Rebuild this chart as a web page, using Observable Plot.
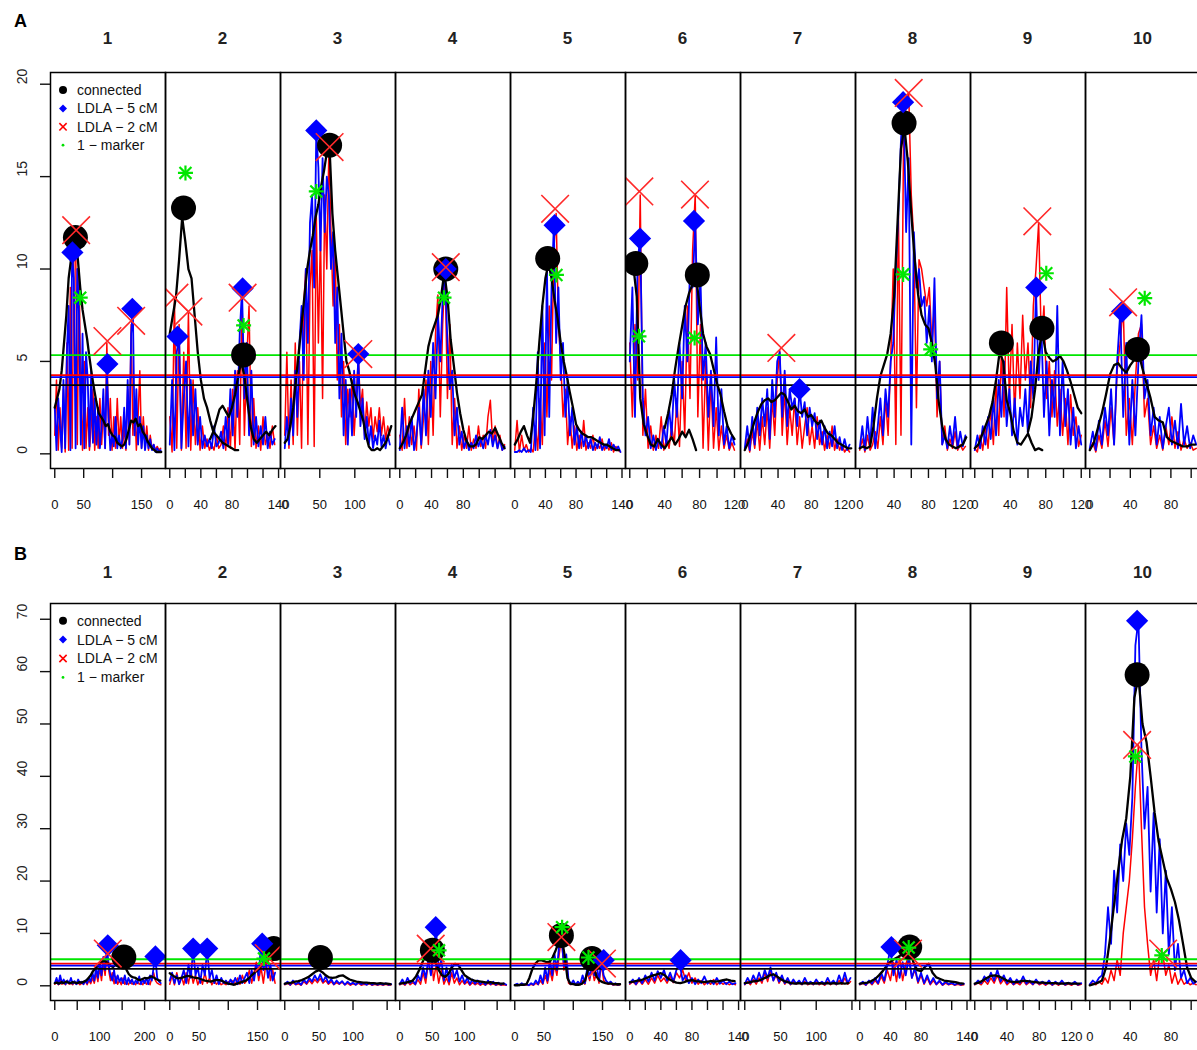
<!DOCTYPE html>
<html><head><meta charset="utf-8">
<script src="https://cdn.jsdelivr.net/npm/d3@7"></script>
<script src="https://cdn.jsdelivr.net/npm/@observablehq/plot@0.6"></script>
<style>
body{margin:0;background:#fff;overflow:hidden;font-family:"Liberation Sans",Arial,sans-serif}
#root{position:relative;width:1197px;height:1050px;overflow:hidden;background:#fff}
</style></head><body><div id="root"></div>
<script>
// ---------------- DATA ----------------
const chromosomes = ["1","2","3","4","5","6","7","8","9","10"];
const seriesNames = ["connected","LDLA \u2212 5 cM","LDLA \u2212 2 cM","1 \u2212 marker"];
// thresholds: 1-marker, LDLA 2 cM, LDLA 5 cM, connected
const thresholdColors = ["#00e600","#ff0000","#0000ff","#000000"];

// ---- Panel A ----
const lengthA = [184,137,152,134,139,122,128,124,120,105];
const ticksA = [[0,50,100,150],[0,20,40,60,80,100,120,140],[0,50,100,150],[0,20,40,60,80,100,120],[0,20,40,60,80,100,120,140],[0,20,40,60,80,100,120],[0,20,40,60,80,100,120],[0,20,40,60,80,100,120],[0,20,40,60,80,100,120],[0,20,40,60,80,100]];
const tickLabelsA = [[0,50,150],[0,40,80,140],[0,50,100],[0,40,80],[0,40,80,140],[0,40,80,120],[0,40,80,120],[0,40,80,120],[0,40,80,120],[0,40,80]];
const yTicksA = [0,5,10,15,20];
const yMaxA = 19.84;
const thresholdsA = [5.34,4.26,4.15,3.72];

// each chromosome: list of segments [start cM, step cM, values]
const blackA = [
 [[0,4,[2.5,3.0,3.5,4.5,6.0,7.5,9.5,10.5,11.2,11.5,10.5,9.0,7.8,7.0,6.2,5.2,4.3,3.5,2.8,2.2,2.0,1.8,1.5,1.6,1.2,1.0,0.9,0.6,0.5,0.4,0.5,0.8,1.3,1.8,1.7,1.9,1.5,1.6,1.2,1.0,0.7,0.5,0.3,0.2,0.1,0.1,0.1]]],
 [[0,4,[6.5,7.5,8.5,10.5,12.8,11.5,10.0,9.5,7.5,5.5,4.0,3.0,2.5,1.8,1.2,1.0,0.8,0.6,0.5,0.4,0.3,0.2,0.2]],
  [52,4,[0.8,1.2,1.8,2.4,2.6,2.3,2.0,2.5,3.2,4.2,5.0,4.2,2.8,1.5,0.8,0.6,0.8,1.0,1.2,1.0,1.3,1.5]]],
 [[0,4,[0.6,0.8,1.5,2.5,4.0,5.5,7.0,8.5,10.0,11.0,11.8,12.8,13.5,14.5,15.3,16.3,16.5,13.0,11.0,9.5,8.0,6.5,5.0,4.5,3.8,3.2,2.8,2.3,1.8,1.0,0.4,0.2,0.2,0.3,0.2,0.4,0.6,1.0,1.5]]],
 [[0,4,[0.3,0.6,1.0,1.6,2.0,2.4,2.8,3.2,4.5,5.8,6.5,7.0,7.5,8.5,9.8,8.5,6.2,4.8,3.3,2.2,1.3,0.7,0.4,0.4,0.5,0.9,0.8,1.0,1.2,1.1,1.4,1.0,0.6,0.3]]],
 [[0,4,[0.5,0.8,1.2,1.5,1.0,0.6,2.0,3.8,6.0,8.0,9.5,10.3,9.5,8.3,7.3,6.0,5.0,4.2,3.3,2.5,1.6,1.3,1.1,1.0,0.9,0.9,0.8,0.7,0.6,0.5,0.5,0.4,0.3,0.2,0.2]]],
 [[0,4,[9.8,10.2,8.5,3.0,1.6,1.0,0.5,0.4,0.8,0.5,0.3,0.6,0.9,0.5,0.8,1.2,0.9,1.3,0.8,0.2]],
  [40,4,[1.4,2.2,3.2,4.6,5.8,6.9,8.0,8.7,9.2,9.6,8.0,6.5,5.8,5.4,4.6,3.8,3.2,2.3,1.5,1.1,0.8]]],
 [[0,4,[0.2,0.6,1.2,1.8,2.3,2.7,2.9,3.0,2.8,2.9,3.1,3.3,3.2,2.8,2.4,2.6,2.3,2.2,2.4,2.0,2.1,1.8,1.6,1.8,1.4,1.1,1.0,0.8,0.6,0.5,0.4,0.3,0.3]]],
 [[0,4,[0.3,0.4,0.3,0.4,1.5,3.0,4.2,4.8,5.4,6.5,8.5,12.5,16.5,17.7,15.8,13.0,10.5,8.6,7.5,7.0,6.8,6.0,4.8,2.8,1.5,0.8,0.5,0.4,0.3,0.4,0.5,0.9]]],
 [[0,4,[0.3,0.5,1.0,1.5,2.0,2.8,4.0,5.5,5.0,2.9,2.2,1.2,0.6,0.5,0.8,1.1,0.6,0.2,0.3,0.2]],
  [60,4,[1.2,2.0,3.5,5.5,6.6,5.5,5.2,5.0,5.1,5.3,5.0,4.5,3.9,3.2,2.5,2.2]]],
 [[0,4,[0.2,0.6,1.4,2.2,3.2,4.3,4.8,4.9,4.6,4.4,4.8,5.1,5.5,4.6,3.8,3.0,2.0,1.8,1.7,0.9,0.7,0.6,0.5,0.4,0.4,0.5,0.5]]]
];
const blueA = [
 [[0,3,[2.5,0.2,3.0,1.5,0.1,4.0,0.3,5.5,8.0,0.2,10.9,9.5,0.3,10.0,7.5,0.5,6.5,0.3,5.5,4.0,0.4,4.5,0.6,3.0,0.5,2.5,0.3,1.5,3.5,0.3,4.5,2.0,0.2,1.0,0.4,2.0,0.3,1.0,0.3,0.8,2.5,0.3,4.0,0.5,6.5,7.8,1.0,3.5,0.5,2.0,0.3,1.5,0.2,1.0,0.3,0.8,0.2,0.5,0.1,0.3,0.1,0.2]]],
 [[0,3,[0.5,4.0,0.2,5.5,6.3,0.3,3.0,5.0,0.4,4.0,1.0,3.5,0.5,2.0,0.3,1.0,0.4,0.8,0.3,1.5,0.4,0.6,1.2,0.3,2.0,0.5,3.5,1.0,4.5,2.0,6.5,8.9,3.0,6.0,1.0,4.5,0.5,2.0,0.4,1.5,0.5,2.0,0.3,1.2,0.5,0.8]]],
 [[0,3,[0.3,2.0,0.5,3.0,1.0,4.5,2.0,6.0,8.0,4.0,10.0,6.0,12.5,14.0,9.0,17.4,15.5,11.0,16.0,12.0,15.0,14.0,10.0,12.0,6.0,9.0,3.0,6.5,1.0,4.0,0.5,3.5,1.0,4.5,2.0,5.3,1.5,3.0,0.8,2.0,0.5,1.5,0.3,1.0,0.5,1.8,0.4,1.0,0.3,1.0,0.5]]],
 [[0,3,[0.2,2.5,0.3,1.5,0.4,2.0,0.2,1.0,2.5,0.5,3.5,1.0,4.5,2.0,6.0,3.0,7.5,5.0,8.5,9.9,6.0,3.5,4.5,1.0,2.5,0.5,1.2,0.3,0.8,0.2,0.6,0.3,1.0,0.4,0.8,0.3,1.0,0.5,1.3,0.4,1.0,0.3,0.8,0.2,0.4]]],
 [[0,3,[0.1,0.1,0.2,0.1,0.3,0.1,0.2,0.1,2.5,0.2,5.5,0.3,8.0,1.0,10.0,2.0,9.0,12.3,6.0,9.0,4.0,6.0,2.0,4.0,1.0,2.5,0.5,1.5,0.3,1.2,0.4,1.0,0.3,0.8,0.2,0.6,0.3,0.9,0.2,0.5,0.3,0.8,0.2,0.5,0.2,0.4,0.1]]],
 [[0,3,[5.0,9.0,2.0,10.5,11.6,3.0,1.0,2.0,0.3,1.0,0.2,0.8,0.3,1.5,0.5,2.5,1.0,4.0,2.0,6.0,3.0,8.0,5.0,10.0,9.0,12.5,7.0,9.5,4.0,6.0,2.0,4.5,1.5,6.3,1.0,3.5,0.5,1.5,0.3,1.0,0.5]]],
 [[0,3,[0.3,1.5,0.2,2.0,0.5,2.5,1.0,3.0,1.5,3.5,0.8,4.0,2.0,5.0,5.5,2.0,4.5,1.5,3.5,2.5,3.0,1.5,3.5,2.0,2.8,1.0,2.5,1.5,2.2,0.8,1.8,0.5,1.5,0.3,1.2,0.4,1.5,0.3,0.9,0.2,0.8,0.2,0.5]]],
 [[0,3,[0.3,1.5,0.2,2.0,0.5,2.5,0.3,1.5,3.0,1.0,3.5,2.0,5.0,6.0,10.0,13.0,17.0,19.0,12.0,16.0,0.5,12.0,9.0,10.0,8.0,8.5,6.0,8.0,5.0,9.5,3.0,5.0,0.5,1.0,0.3,1.5,0.5,2.0,0.3,1.2,0.4,1.0]]],
 [[0,3,[0.2,1.0,0.3,1.5,0.5,2.0,0.8,3.0,1.0,4.0,2.0,5.0,1.5,3.5,1.0,3.0,0.5,2.5,1.5,3.5,1.0,5.0,3.0,8.9,4.0,7.0,2.0,5.0,1.0,4.0,2.0,8.0,1.0,5.0,1.5,3.5,0.5,2.5,0.3,1.5,0.5]]],
 [[0,3,[0.3,1.2,0.2,1.8,0.5,2.5,1.0,3.5,0.5,5.0,7.6,2.0,6.0,0.5,4.0,1.0,5.0,7.5,3.0,4.0,1.0,2.5,0.5,2.0,0.3,1.5,2.5,0.5,1.8,0.3,2.7,0.5,1.5,0.3,1.0,0.5]]]
];
const redA = [
 [[0,3,[1.0,4.0,0.2,2.5,0.3,3.5,0.1,6.0,0.2,9.0,0.3,10.5,12.0,0.5,10.0,3.0,0.2,5.0,0.3,2.5,0.2,1.5,3.5,0.2,2.0,0.3,3.0,0.5,2.5,0.3,6.0,1.0,3.0,0.2,2.0,0.3,3.0,0.5,2.0,0.3,1.5,0.2,3.5,0.5,7.0,1.0,3.0,0.2,2.0,4.5,0.3,2.0,0.5,1.5,0.2,1.0,0.3,0.5,0.2,0.4,0.2,0.3]]],
 [[0,3,[2.0,0.1,8.4,0.3,7.0,0.2,5.5,0.3,7.6,0.2,4.0,0.5,2.5,0.2,1.5,0.3,0.8,0.2,0.5,0.2,1.0,0.3,0.5,1.5,0.2,2.5,0.3,3.5,0.2,4.5,0.5,8.4,1.0,5.0,8.0,0.4,3.0,0.3,1.5,0.2,2.0,0.5,1.0,0.3,1.5,0.5]]],
 [[0,3,[1.0,5.5,0.3,4.0,0.5,6.0,1.0,5.0,0.3,8.0,10.0,0.5,9.0,11.0,0.4,13.0,6.0,12.0,3.0,14.0,10.0,16.5,12.0,8.0,11.0,4.0,7.0,2.0,5.0,0.5,3.5,2.0,4.0,1.0,3.0,5.3,2.5,3.5,1.0,2.8,1.5,2.5,0.8,2.0,1.2,2.5,1.0,2.0,0.8,1.5,1.0]]],
 [[0,3,[1.0,0.2,3.0,0.3,2.0,0.5,1.5,0.2,3.5,0.3,2.0,4.0,0.5,5.0,1.0,6.5,8.6,2.0,7.0,10.0,3.0,7.0,0.5,3.0,0.3,1.5,0.2,1.0,0.3,1.5,0.2,0.8,0.3,1.5,0.4,1.0,0.3,2.0,2.9,0.5,1.5,0.3,1.0,0.2,0.5]]],
 [[0,3,[0.2,1.8,0.1,1.0,0.2,0.5,0.1,0.3,0.1,1.5,0.2,3.0,0.5,6.0,2.0,8.0,4.0,11.0,13.0,7.0,5.0,2.0,3.5,0.5,2.0,0.3,1.5,0.2,1.0,0.3,1.8,0.2,0.6,0.3,1.0,0.2,0.5,0.3,0.8,0.2,0.5,0.2,0.6,0.1,0.4,0.2,0.1]]],
 [[0,3,[6.0,2.0,7.0,4.0,14.0,1.0,3.5,0.3,1.5,0.2,1.0,0.3,2.0,0.2,0.8,0.3,1.5,0.5,3.0,0.4,5.0,1.0,8.0,3.0,11.0,14.0,2.0,7.0,0.3,5.0,0.2,4.0,0.3,2.5,0.2,1.5,0.3,1.0,0.2,0.6,0.2]]],
 [[0,3,[0.2,0.8,0.1,1.2,0.3,1.8,0.2,2.0,0.5,2.5,0.3,3.0,1.0,4.0,5.6,1.0,3.5,0.5,2.5,1.0,3.0,0.5,2.0,0.3,1.5,2.5,0.5,1.5,0.3,2.0,0.5,1.2,0.2,1.0,0.3,1.5,0.2,0.8,0.2,0.5,0.1,0.3,0.1]]],
 [[0,3,[0.2,0.8,0.1,1.0,0.2,0.5,1.2,0.3,2.0,0.5,3.0,1.0,5.0,10.0,0.5,13.0,1.0,17.0,19.0,19.5,14.0,11.5,2.5,10.5,10.0,9.0,8.0,9.0,6.0,8.0,2.0,5.0,0.5,1.5,0.2,0.8,0.3,1.2,0.2,0.5,0.2,0.4]]],
 [[0,3,[0.3,0.1,1.0,0.2,1.5,0.3,2.5,0.5,4.0,1.0,5.5,2.0,9.0,3.0,7.0,2.0,6.0,3.0,7.5,4.0,6.0,2.5,8.0,10.0,12.5,6.0,8.0,3.0,5.0,2.0,4.5,1.5,3.5,1.0,3.0,0.5,3.2,1.0,2.0,0.4,1.0]]],
 [[0,3,[0.2,0.6,0.1,1.0,0.3,1.8,0.4,2.5,0.5,4.5,6.0,8.1,1.0,3.0,0.5,4.0,6.5,7.0,2.0,3.0,0.5,1.5,0.3,1.0,0.2,1.5,0.5,2.0,0.3,1.2,0.2,0.8,0.3,0.6,0.2,0.3]]]
];
// peak markers: [chromosome, cM, value]
const circleA = [[1,35.7,11.7],[2,17.7,13.3],[2,95,5.35],[3,64,16.7],[4,57.9,10.0],[5,43,10.57],[6,6.9,10.3],[6,77.4,9.68],[8,51.6,17.9],[9,30,6.0],[9,75.7,6.8],[10,47,5.65]];
const diamondA = [[1,30.5,10.9],[1,91,4.86],[1,134,7.85],[2,10,6.35],[2,93.7,8.95],[3,45,17.5],[3,105,5.4],[4,57.9,10.0],[5,52,12.37],[6,11.8,11.65],[6,73.6,12.6],[7,65.9,3.5],[8,50.5,19.03],[9,69.3,9.0],[10,31.9,7.7]];
const crossA = [[1,37,12.1],[1,91,6.1],[1,132,7.2],[2,6,8.45],[2,24,7.7],[2,93.7,8.45],[3,64,16.6],[3,105,5.4],[4,57.9,10.1],[5,52.7,13.26],[6,11,14.2],[6,74.7,14.03],[7,44,5.73],[8,57,19.53],[9,70.5,12.58],[10,32.9,8.2]];
const starA = [[1,44,8.45],[2,20.2,15.2],[2,95,6.95],[3,45,14.2],[4,55.7,8.45],[5,54.4,9.68],[6,10.6,6.36],[6,74.3,6.27],[8,50.5,9.71],[8,82.6,5.65],[9,80.6,9.77],[10,54.2,8.42]];

// ---- Panel B ----
const lengthB = [237,182,156,164,182,137,149,139,132,105];
const ticksB = [[0,50,100,150,200],[0,50,100,150],[0,50,100,150],[0,50,100,150],[0,50,100,150],[0,20,40,60,80,100,120,140],[0,50,100,150],[0,20,40,60,80,100,120,140],[0,20,40,60,80,100,120],[0,20,40,60,80,100]];
const tickLabelsB = [[0,100,200],[0,50,150],[0,50,100],[0,50,100],[0,50,150],[0,40,80,140],[0,50,100],[0,40,80,140],[0,40,80,120],[0,40,80]];
const yTicksB = [0,10,20,30,40,50,60,70];
const yMaxB = 70.2;
const thresholdsB = [5.07,4.25,3.87,3.23];

const blackB = [
 [[0,5,[0.5,0.6,0.4,0.7,0.5,0.8,0.6,0.5,0.7,0.6,0.5,0.7,0.6,0.8,1.0,1.5,2.0,2.8,3.3,3.7,4.2,4.6,4.8,4.5,4.2,3.8,3.6,4.0,4.5,5.0,5.3,4.5,3.0,2.2,1.8,1.6,1.5,1.2,1.1,1.3,1.5,1.4,1.6,1.8,1.6,1.3,1.1,1.0]]],
 [[0,5,[2.4,2.0,1.6,1.4,1.5,1.7,1.9,1.8,1.6,1.5,1.4,1.2,1.0,0.9,0.8,1.0,1.1,1.1,0.9,0.6,0.4,0.3,0.2,0.4,0.6,0.8,1.0,1.4,2.0,2.5,3.0,3.6,4.2,5.0,5.8,6.5,7.0]]],
 [[0,5,[0.4,0.5,0.6,0.8,0.9,1.1,1.4,1.7,2.2,2.7,3.0,2.6,2.0,1.6,1.5,1.6,1.9,2.0,1.6,1.2,1.0,0.8,0.7,0.6,0.6,0.5,0.5,0.4,0.5,0.4,0.4,0.3]]],
 [[0,5,[0.4,0.5,0.6,0.8,1.0,1.8,3.0,4.5,5.8,6.5,6.0,4.5,3.0,2.0,1.7,2.3,3.5,4.2,4.0,3.0,2.0,1.6,1.2,1.0,0.9,0.8,0.7,0.6,0.7,0.5,0.5,0.4,0.4]]],
 [[0,5,[0.1,0.1,0.2,0.2,0.3,1.5,3.2,4.2,4.8,4.9,4.7,4.5,4.6,5.5,6.8,8.2,9.4,6.0,1.5,0.4,0.3,0.2,0.2,0.4,1.0,3.0,5.0,3.5,1.7,1.0,0.7,0.5,0.4,0.4,0.3,0.3,0.3]]],
 [[0,5,[0.7,0.8,1.0,1.1,1.4,1.7,2.0,2.2,2.4,2.0,1.3,0.9,0.6,0.5,0.7,1.0,1.1,0.9,0.8,0.7,0.8,0.9,0.8,0.9,1.1,1.2,1.0,0.9]]],
 [[0,5,[0.5,0.6,0.8,0.9,1.0,1.3,1.6,2.0,2.2,1.8,1.3,0.9,0.7,0.5,0.4,0.5,0.4,0.5,0.4,0.5,0.4,0.5,0.4,0.5,0.4,0.5,0.4,0.5,0.4,0.5]]],
 [[0,5,[0.4,0.5,0.6,0.9,1.3,2.0,2.8,3.8,4.6,5.1,5.5,6.0,6.8,7.0,4.5,3.0,2.8,3.6,4.2,2.5,1.6,1.3,1.0,0.9,0.8,0.7,0.5,0.4]]],
 [[0,5,[0.4,0.6,1.0,1.5,1.9,2.0,1.8,1.4,1.0,0.8,0.7,0.8,1.0,0.9,0.8,0.7,0.6,0.6,0.5,0.5,0.5,0.4,0.4,0.5,0.4,0.4,0.4]]],
 [[0,4,[0.1,0.3,0.6,1.0,3.5,9.0,15.5,22.0,28.0,32.0,40.0,55.0,59.0,50.0,46.5,40.0,33.0,27.5,24.0,20.5,18.5,16.0,12.5,8.0,3.5,1.5,0.8]]]
];
const blueB = [
 [[0,4,[0.5,1.5,0.3,2.0,0.5,1.2,0.3,1.0,0.5,1.5,0.4,0.9,0.3,1.2,0.5,0.8,0.3,1.0,0.5,1.5,0.8,2.5,1.0,3.5,1.5,4.5,2.0,5.5,3.0,7.5,4.0,2.0,1.0,3.0,0.5,2.0,0.8,1.5,0.5,2.0,0.3,1.5,0.5,1.2,0.3,1.0,0.5,1.8,0.3,1.2,0.5,1.5,0.3,2.0,1.0,3.5,5.5,1.5,0.8,0.5]]],
 [[0,4,[1.0,2.5,0.5,2.0,0.3,1.5,3.0,0.5,4.0,1.5,7.0,2.0,3.5,0.5,4.0,2.0,7.0,1.5,3.0,0.5,2.0,0.3,1.5,0.5,1.0,0.3,1.2,0.4,1.5,0.3,2.0,0.5,1.5,2.5,0.5,3.0,1.0,4.0,2.0,8.0,3.0,5.0,1.5,4.0,1.0,2.5]]],
 [[0,4,[0.3,0.8,0.2,1.0,0.3,0.7,0.2,1.2,0.5,1.5,0.8,2.0,1.0,2.2,0.8,1.8,0.5,1.3,0.3,1.0,0.4,0.9,0.2,0.8,0.3,0.6,0.2,0.7,0.3,0.5,0.2,0.6,0.2,0.5,0.2,0.4,0.2,0.5,0.2,0.3]]],
 [[0,4,[0.3,1.2,0.3,1.5,0.5,1.0,0.3,2.0,1.0,3.5,1.5,5.0,2.0,7.0,10.5,3.0,5.0,1.0,3.5,0.8,4.0,1.5,3.0,0.8,2.0,0.5,1.5,0.3,1.2,0.4,1.0,0.3,0.8,0.2,1.0,0.3,0.8,0.2,0.6,0.2,0.5,0.2]]],
 [[0,4,[0.2,0.4,0.1,0.5,0.2,0.3,0.1,0.5,0.2,1.0,0.3,2.0,0.5,3.5,1.0,5.0,2.0,6.0,3.0,8.0,9.0,4.0,6.0,1.0,0.3,1.0,0.2,0.8,0.3,2.0,0.5,3.5,1.5,4.5,2.0,4.0,1.0,4.9,2.0,1.0,0.5,0.8,0.2,0.5,0.2,0.3]]],
 [[0,4,[0.5,1.2,0.3,1.5,0.5,2.0,0.8,2.5,1.0,2.8,1.5,3.0,1.0,2.5,0.8,3.0,4.5,1.0,2.0,0.5,1.5,0.3,1.2,0.5,1.8,0.4,1.0,0.3,1.5,0.4,1.0,0.3,0.8,0.3,0.5]]],
 [[0,4,[0.3,1.5,0.5,2.0,0.8,2.5,1.0,3.0,1.5,3.5,1.0,2.5,0.8,2.0,0.5,1.5,0.3,1.2,0.4,1.0,0.3,1.5,0.4,0.8,0.3,1.2,0.4,0.8,0.3,1.5,0.4,1.0,0.3,2.0,0.5,2.5,0.5,1.5]]],
 [[0,4,[0.3,0.8,0.2,1.0,0.4,1.5,0.5,2.5,1.0,4.0,7.3,2.0,5.0,1.5,4.5,2.0,5.5,1.5,3.5,0.8,2.5,0.5,2.0,0.4,1.5,0.3,1.0,0.2,0.8,0.3,0.6,0.2,0.5,0.2,0.4]]],
 [[0,4,[0.3,1.0,0.5,1.8,0.8,2.5,1.0,3.0,0.8,2.0,0.5,1.5,0.3,1.2,0.5,1.8,0.4,1.0,0.3,1.2,0.4,0.8,0.3,1.0,0.2,0.8,0.3,1.0,0.2,0.6,0.3,0.8,0.2,0.5]]],
 [[0,3,[0.3,1.0,0.5,1.5,2.0,6.0,15.0,8.0,22.0,14.0,27.0,20.0,31.0,25.0,36.0,65.0,70.0,45.0,30.0,38.0,18.0,33.0,14.0,28.0,10.0,22.0,6.0,15.0,3.0,8.0,1.5,3.0,0.5,1.5,0.4,0.8]]]
];
const redB = [
 [[0,4,[0.3,0.8,0.2,1.2,0.3,0.6,0.2,1.0,0.3,0.5,0.2,0.8,0.3,0.6,0.2,0.5,0.3,0.9,0.2,1.0,0.4,1.5,0.5,2.5,0.8,3.5,1.0,4.5,2.0,6.0,3.0,1.0,2.5,0.4,1.8,0.3,1.0,0.2,1.5,0.3,0.8,0.2,1.0,0.3,0.6,0.2,0.9,0.3,0.5,0.2,1.0,0.3,0.8,0.2,1.5,2.5,1.0,0.5,0.3,0.2]]],
 [[0,4,[0.3,2.0,0.2,2.5,0.3,1.8,0.2,2.5,0.4,3.0,0.5,2.0,0.2,1.5,0.3,2.5,0.5,1.5,0.2,1.0,0.3,0.8,0.2,0.5,0.2,0.8,0.3,1.0,0.2,1.5,0.3,2.0,0.5,1.0,3.0,0.5,2.5,4.5,1.0,3.5,0.5,4.0,5.3,1.0,3.0,0.5]]],
 [[0,4,[0.2,0.5,0.1,0.6,0.2,0.4,0.1,0.8,0.3,1.0,0.4,1.2,0.6,1.4,0.5,1.0,0.3,0.8,0.2,0.6,0.3,0.7,0.2,0.5,0.1,0.4,0.2,0.5,0.1,0.3,0.2,0.4,0.1,0.3,0.1,0.3,0.1,0.3,0.1,0.2]]],
 [[0,4,[0.2,0.5,0.1,0.8,0.2,0.6,0.2,1.2,0.3,2.5,0.5,4.5,7.0,1.0,4.0,0.5,3.0,0.3,1.5,0.2,2.5,0.5,1.5,0.2,1.0,0.3,0.8,0.1,0.6,0.2,0.5,0.1,0.4,0.1,0.5,0.2,0.4,0.1,0.3,0.1,0.2,0.1]]],
 [[0,4,[0.1,0.2,0.1,0.3,0.1,0.2,0.1,0.3,0.1,0.5,0.2,1.0,0.3,2.0,0.5,3.0,1.0,4.0,2.0,6.0,9.2,3.0,5.0,0.5,0.2,0.5,0.1,0.4,0.2,1.0,0.3,2.5,1.0,3.5,1.0,2.5,0.5,4.2,1.0,0.5,0.3,0.5,0.1,0.3,0.1,0.2]]],
 [[0,4,[0.3,0.8,0.2,1.0,0.3,1.2,0.3,1.5,0.5,2.0,0.8,1.5,0.5,1.8,0.6,2.5,1.5,3.0,1.0,2.5,0.5,1.5,0.3,1.0,0.2,0.8,0.3,1.2,0.2,0.8,0.3,0.6,0.2,0.5,0.2]]],
 [[0,4,[0.2,0.8,0.2,1.2,0.3,1.5,0.5,2.5,0.8,3.0,1.0,2.0,0.5,1.5,0.3,1.0,0.2,0.8,0.3,0.6,0.2,0.8,0.2,0.5,0.2,0.7,0.2,0.5,0.1,0.8,0.2,0.6,0.2,1.0,0.3,1.5,0.3,0.8]]],
 [[0,4,[0.2,0.5,0.1,0.8,0.2,1.0,0.3,1.8,0.5,3.0,1.0,4.5,0.8,5.5,1.0,4.0,6.0,1.5,3.0,0.5,2.0,0.3,1.5,0.2,1.0,0.2,0.8,0.1,0.5,0.2,0.4,0.1,0.3,0.1,0.2]]],
 [[0,4,[0.2,0.6,0.2,1.0,0.3,1.5,0.5,2.0,0.4,1.2,0.2,0.8,0.2,0.6,0.2,1.0,0.2,0.7,0.2,0.8,0.2,0.5,0.1,0.6,0.1,0.5,0.1,0.6,0.1,0.4,0.1,0.5,0.1,0.3]]],
 [[0,3,[0.2,0.5,0.2,0.8,0.3,1.5,0.5,3.0,1.0,5.0,2.0,10.0,15.0,20.0,28.0,38.0,46.0,30.0,15.0,8.0,2.0,5.0,1.0,6.0,6.1,2.0,4.0,0.5,2.5,0.3,1.5,0.3,0.8,0.2,0.5,0.2]]]
];
const circleB = [[1,153.7,5.5],[2,178,7.1],[3,52.2,5.4],[4,50.3,6.77],[5,79.7,9.62],[5,132,5.2],[8,65.2,7.4],[10,46.7,59.4]];
const diamondB = [[1,118,7.72],[1,224,5.6],[2,40,7.1],[2,64,7.1],[2,158,8.05],[4,55.4,11.2],[5,152,4.9],[6,65.4,4.9],[8,41.3,7.4],[10,46.7,69.7]];
const crossB = [[1,118,6.15],[2,169,5.3],[4,47.7,7.1],[5,79.7,9.3],[5,149,4.25],[8,63,6.15],[10,46.7,46],[10,72.4,6.15]];
const starB = [[2,161,5.2],[4,60.5,6.77],[5,80.9,11.2],[5,126,5.4],[8,63.9,7.3],[10,45,43.8],[10,71,5.8]];

// ---------------- LAYOUT ----------------
const FACET_W = 115, AXIS_W = 50;
const panels = [
  {letter:"A", top:72, boxH:396, len:lengthA, ticks:ticksA, labels:tickLabelsA, yTicks:yTicksA, yMax:yMaxA, thr:thresholdsA,
   black:blackA, blue:blueA, red:redA, circ:circleA, diam:diamondA, cross:crossA, star:starA, titleY:38.3, letterY:20.8, legendY:[90,108.4,126.8,145.2]},
  {letter:"B", top:603, boxH:397, len:lengthB, ticks:ticksB, labels:tickLabelsB, yTicks:yTicksB, yMax:yMaxB, thr:thresholdsB,
   black:blackB, blue:blueB, red:redB, circ:circleB, diam:diamondB, cross:crossB, star:starB, titleY:571.7, letterY:553.3, legendY:[620.7,639.6,658.5,677.4]}
];

const pts = spec => spec.flatMap(([s,d,vals],si) => vals.map((v,i) => ({x:s+i*d, y:v, seg:si})));

function facet(P, k) {
  const L = P.len[k], ml = k === 0 ? AXIS_W : 0, mt = 10, mb = 52;
  const sel = a => a.filter(d => d[0] === k+1).map(d => ({x:d[1], y:d[2]}));
  const marks = [
    Plot.line(pts(P.red[k]), {x:"x", y:"y", z:"seg", stroke:"#ff0000", strokeWidth:1.5, clip:true}),
    Plot.line(pts(P.blue[k]), {x:"x", y:"y", z:"seg", stroke:"#0000ff", strokeWidth:1.8, clip:true}),
    Plot.line(pts(P.black[k]), {x:"x", y:"y", z:"seg", stroke:"#000", strokeWidth:2.3, clip:true}),
    ...P.thr.map((t,i) => Plot.ruleY([t], {stroke:thresholdColors[i], strokeWidth:1.8})),
    Plot.dot(sel(P.circ), {x:"x", y:"y", r:12.5, fill:"#000", stroke:"none", clip:true}),
    Plot.dot(sel(P.diam), {x:"x", y:"y", r:10, symbol:"diamond2", fill:"#0000ff", stroke:"none", clip:true}),
    Plot.dot(sel(P.cross), {x:"x", y:"y", r:12.6, symbol:"times", stroke:"#ff2a2a", strokeWidth:1.6, clip:true}),
    Plot.dot(sel(P.star), {x:"x", y:"y", r:4.9, symbol:"plus", stroke:"#00e600", strokeWidth:2.2, clip:true}),
    Plot.dot(sel(P.star), {x:"x", y:"y", r:5.5, symbol:"times", stroke:"#00e600", strokeWidth:2.2, clip:true}),
    Plot.frame({stroke:"#000", strokeWidth:1.5}),
    Plot.axisX(P.ticks[k], {tickSize:10, tickPadding:21, tickFormat:d => P.labels[k].includes(d) ? String(d) : "", label:null, strokeWidth:1.4})
  ];
  if (k === 0) {
    marks.push(
      Plot.axisY(P.yTicks, {tickSize:10, tickFormat:() => "", label:null, strokeWidth:1.4}),
      Plot.text(P.yTicks, {y:d => d, text:d => String(d), frameAnchor:"left", dx:-28.3, rotate:-90, fontSize:14, fill:"#222"})
    );
  }
  const svg = Plot.plot({
    width: ml + FACET_W, height: mt + P.boxH + mb,
    marginLeft: ml, marginRight: 0, marginTop: mt, marginBottom: mb,
    x: {domain: [-0.04*L, 1.04*L]},
    y: k === 0 ? {domain: [-0.04*P.yMax, 1.04*P.yMax]} : {domain: [-0.04*P.yMax, 1.04*P.yMax], axis: null},
    style: {overflow:"visible", background:"none", fontFamily:"'Liberation Sans', Arial, sans-serif", fontSize:"13px", color:"#111"},
    marks
  });
  svg.style.position = "absolute";
  svg.style.left = (k === 0 ? 0 : AXIS_W + FACET_W*k) + "px";
  svg.style.top = (P.top - mt) + "px";
  return svg;
}

const root = document.getElementById("root");
panels.forEach(P => chromosomes.forEach((c,k) => root.appendChild(facet(P,k))));

// overlay: titles, panel letters, legends
const ov = d3.create("svg").attr("width",1197).attr("height",1050)
  .style("position","absolute").style("left","0px").style("top","0px")
  .style("font-family","'Liberation Sans', Arial, sans-serif");
panels.forEach(P => {
  ov.append("text").attr("x",20.5).attr("y",P.letterY).attr("dy","0.36em").attr("text-anchor","middle")
    .attr("font-size",18).attr("font-weight",900).attr("fill","#000").text(P.letter);
  chromosomes.forEach((c,k) => {
    ov.append("text").attr("x",AXIS_W + FACET_W*k + FACET_W/2).attr("y",P.titleY).attr("dy","0.36em")
      .attr("text-anchor","middle").attr("font-size",17).attr("font-weight",700).attr("fill","#222").text(c);
  });
  const sx = 63, tx = 77;
  const g = ov.append("g");
  const sym = [
    {s:d3.symbolCircle, r:4, fill:"#000"},
    {s:d3.symbolDiamond2, r:3.6, fill:"#0000ff"},
    {s:d3.symbolTimes, r:3.4, stroke:"#ff0000"},
    {s:d3.symbolCircle, r:1.4, fill:"#00e000"}
  ];
  seriesNames.forEach((name,i) => {
    const y = P.legendY[i], m = sym[i];
    g.append("path").attr("transform",`translate(${sx},${y})`)
      .attr("d", d3.symbol(m.s, Math.PI*m.r*m.r)())
      .attr("fill", m.fill || "none").attr("stroke", m.stroke || "none").attr("stroke-width",1.6);
    g.append("text").attr("x",tx).attr("y",y).attr("dy","0.35em").attr("font-size",14).attr("fill","#111").text(name);
  });
});
root.appendChild(ov.node());
</script></body></html>
